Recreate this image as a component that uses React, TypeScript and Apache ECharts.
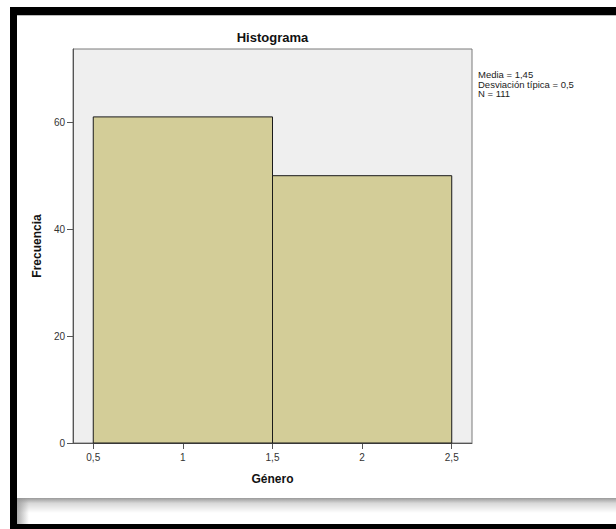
import React, { useEffect, useRef } from "react";
import * as echarts from "echarts";

const binStarts = [0.5, 1.5];
const binEnds = [1.5, 2.5];
const frequencies = [61, 50];
const xTicks = [0.5, 1, 1.5, 2, 2.5];
const yTicks = [0, 20, 40, 60];
const statLines = ["Media = 1,45", "Desviación típica = 0,5", "N = 111"];
const titleText = "Histograma";
const xName = "Género";
const yName = "Frecuencia";

export default function App() {
  const ref = useRef<HTMLDivElement>(null);
  useEffect(() => {
    if (!ref.current) return;
    const chart = echarts.init(ref.current, null, { renderer: "svg" });
    const data = binStarts.map((s, i) => [s, binEnds[i], frequencies[i]]);
    const font = "Arial, 'Liberation Sans', sans-serif";
    chart.setOption({
      animation: false,
      backgroundColor: "#ffffff",
      grid: {
        left: 73,
        top: 49,
        right: 144,
        bottom: 86,
        show: true,
        backgroundColor: "#EFEFEF",
        borderColor: "#7a7a7a",
        borderWidth: 1,
      },
      xAxis: {
        type: "value",
        min: 0.387,
        max: 2.613,
        splitLine: { show: false },
        axisLine: { show: true, onZero: false, lineStyle: { color: "#555", width: 1 } },
        axisTick: { show: true, length: 6, customValues: xTicks, lineStyle: { color: "#555" } },
        axisLabel: {
          customValues: xTicks,
          color: "#333",
          fontSize: 10,
          fontFamily: font,
          margin: 9,
          formatter: (v: number) => String(v).replace(".", ","),
        },
        name: xName,
        nameLocation: "middle",
        nameGap: 30,
        nameTextStyle: { fontSize: 12, fontWeight: "bold", color: "#111", fontFamily: font },
      },
      yAxis: {
        type: "value",
        min: 0,
        max: 73.7,
        splitLine: { show: false },
        axisLine: { show: true, lineStyle: { color: "#555", width: 1 } },
        axisTick: { show: true, length: 6, customValues: yTicks, lineStyle: { color: "#555" } },
        axisLabel: {
          customValues: yTicks,
          color: "#333",
          fontSize: 10,
          fontFamily: font,
          margin: 8,
        },
        name: yName,
        nameLocation: "middle",
        nameGap: 28,
        nameTextStyle: { fontSize: 12, fontWeight: "bold", color: "#111", fontFamily: font },
      },
      series: [
        {
          type: "custom",
          data,
          encode: { x: [0, 1], y: 2 },
          renderItem: (params: any, api: any) => {
            const s = api.coord([api.value(0), api.value(2)]);
            const e = api.coord([api.value(1), 0]);
            return {
              type: "rect",
              shape: { x: s[0], y: s[1], width: e[0] - s[0], height: e[1] - s[1] },
              style: { fill: "#D3CD98", stroke: "#1a1a1a", lineWidth: 1 },
            };
          },
        },
      ],
      graphic: [
        { type: "rect", shape: { x: 10, y: 7, width: 606, height: 8 }, style: { fill: "#000" } },
        { type: "rect", shape: { x: 10, y: 15, width: 606, height: 1 }, style: { fill: "#bbb" } },
        { type: "rect", shape: { x: 10, y: 7, width: 7, height: 522 }, style: { fill: "#000" } },
        { type: "rect", shape: { x: 10, y: 524, width: 606, height: 5 }, style: { fill: "#000" } },
        {
          type: "rect",
          shape: { x: 17, y: 498, width: 599, height: 15 },
          style: {
            fill: new echarts.graphic.LinearGradient(0, 0, 0, 1, [
              { offset: 0, color: "#9a9a9a" },
              { offset: 0.35, color: "#d8d8d8" },
              { offset: 1, color: "#ffffff" },
            ]),
          },
        },
        {
          type: "rect",
          shape: { x: 17, y: 498, width: 12, height: 26 },
          style: {
            fill: new echarts.graphic.LinearGradient(0, 0, 1, 0, [
              { offset: 0, color: "rgba(150,150,150,0.8)" },
              { offset: 1, color: "rgba(150,150,150,0)" },
            ]),
          },
        },
        {
          type: "text",
          x: 272.5,
          y: 37,
          style: {
            text: titleText,
            align: "center",
            verticalAlign: "middle",
            fontSize: 13,
            fontWeight: "bold",
            fill: "#111",
            fontFamily: font,
          },
        },
        {
          type: "text",
          x: 478,
          y: 70,
          style: {
            text: statLines.join("\n"),
            fontSize: 9.5,
            lineHeight: 9.5,
            fill: "#222",
            fontFamily: font,
          },
        },
      ],
    });
    return () => chart.dispose();
  }, []);
  return (
    <div
      ref={ref}
      style={{ position: "absolute", left: 0, top: 0, width: 616, height: 529 }}
    />
  );
}
